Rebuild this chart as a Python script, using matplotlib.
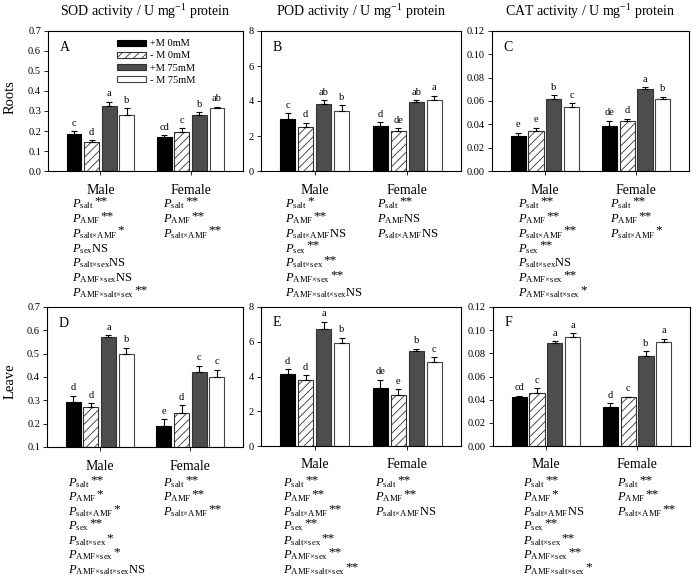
import numpy as np
import matplotlib
matplotlib.use("Agg")
import matplotlib.pyplot as plt
from matplotlib.patches import Patch

plt.rcParams['font.family'] = 'Liberation Serif'
plt.rcParams['mathtext.fontset'] = 'custom'
plt.rcParams['mathtext.rm'] = 'Liberation Serif'
plt.rcParams['mathtext.it'] = 'Liberation Serif:italic'
plt.rcParams['hatch.linewidth'] = 0.6

sexes = ["Male", "Female"]
treatments = ["+M 0mM", "- M 0mM", "+M 75mM", "- M 75mM"]

# values per panel: male (4 treatments) then female (4 treatments)
sod_root = [0.185, 0.147, 0.325, 0.278, 0.170, 0.197, 0.278, 0.313]
sod_root_err = [0.015, 0.008, 0.022, 0.035, 0.010, 0.018, 0.015, 0.008]
sod_root_let = ["c", "d", "a", "b", "cd", "c", "b", "ab"]

pod_root = [2.95, 2.50, 3.85, 3.45, 2.55, 2.30, 3.92, 4.08]
pod_root_err = [0.35, 0.25, 0.20, 0.30, 0.25, 0.15, 0.12, 0.22]
pod_root_let = ["c", "d", "ab", "b", "d", "de", "ab", "a"]

cat_root = [0.030, 0.034, 0.062, 0.055, 0.039, 0.043, 0.070, 0.062]
cat_root_err = [0.003, 0.003, 0.003, 0.003, 0.004, 0.002, 0.002, 0.0015]
cat_root_let = ["e", "e", "b", "c", "de", "d", "a", "b"]

sod_leaf = [0.295, 0.273, 0.570, 0.500, 0.190, 0.245, 0.423, 0.400]
sod_leaf_err = [0.025, 0.015, 0.010, 0.025, 0.030, 0.035, 0.025, 0.030]
sod_leaf_let = ["d", "d", "a", "b", "e", "d", "c", "c"]

pod_leaf = [4.12, 3.78, 6.75, 5.95, 3.35, 2.95, 5.45, 4.85]
pod_leaf_err = [0.30, 0.28, 0.40, 0.28, 0.45, 0.32, 0.15, 0.25]
pod_leaf_let = ["d", "d", "a", "b", "de", "e", "b", "c"]

cat_leaf = [0.042, 0.046, 0.089, 0.0945, 0.034, 0.042, 0.078, 0.0895]
cat_leaf_err = [0.0015, 0.004, 0.0015, 0.003, 0.003, 0.0007, 0.004, 0.003]
cat_leaf_let = ["cd", "c", "a", "a", "d", "c", "b", "a"]

# ANOVA results printed under each panel
male_terms = ["salt", "AMF", "salt×AMF", "sex", "salt×sex", "AMF×sex", "AMF×salt×sex"]
female_terms = ["salt", "AMF", "salt×AMF"]
sig_a = (["**", "**", "*", "NS", "NS", "NS", "**"], ["**", "**", "**"])
sig_b = (["*", "**", "NS", "**", "**", "**", "NS"], ["**", "NS", "NS"])
sig_c = (["**", "**", "**", "**", "NS", "**", "*"], ["**", "**", "*"])
sig_d = (["**", "*", "*", "**", "*", "*", "NS"], ["**", "**", "**"])
sig_e = (["**", "**", "**", "**", "**", "**", "**"], ["**", "**", "NS"])
sig_f = (["**", "*", "NS", "**", "**", "**", "*"], ["**", "**", "**"])

titles = ["SOD activity / U mg$^{-1}$ protein",
          "POD activity / U mg$^{-1}$ protein",
          "CAT activity / U mg$^{-1}$ protein"]

W, H = 700, 582
fig = plt.figure(figsize=(W / 100, H / 100), dpi=100)
renderer = fig.canvas.get_renderer()


def rect(l, t, r, b):
    return [l / W, 1 - b / H, (r - l) / W, (b - t) / H]


bar_colors = ["black", "white", "#4d4d4d", "white"]
bar_hatch = [None, "////", None, None]
bar_edge = ["black", "#333333", "#333333", "#444444"]


def panel(box, means, errs, lets, ylim, yticks, fmt, tag):
    ax = fig.add_axes(rect(*box))
    means = np.asarray(means)
    errs = np.asarray(errs)
    step, wid = 0.195, 0.165
    rng = ylim[1] - ylim[0]
    for i in range(4):
        xs = np.array([1, 2]) + (i - 1.5) * step
        m = means[[i, i + 4]]
        e = errs[[i, i + 4]]
        ax.bar(xs, m - ylim[0], wid, bottom=ylim[0], color=bar_colors[i],
               hatch=bar_hatch[i], edgecolor=bar_edge[i], linewidth=0.8, zorder=2)
        ax.errorbar(xs, m, yerr=[np.zeros(2), e], fmt="none", ecolor="black",
                    elinewidth=0.8, capsize=2.5, capthick=0.8, zorder=3)
        for x, v, ee, t in zip(xs, m, e, [lets[i], lets[i + 4]]):
            ax.text(x, v + ee + 0.025 * rng, t, ha="center", va="bottom", fontsize=7.5)
    ax.set_xlim(0.42, 2.58)
    ax.set_ylim(*ylim)
    ax.set_yticks(yticks)
    ax.set_yticklabels([fmt % v for v in yticks], fontsize=7.5)
    ax.set_xticks([1, 2])
    ax.set_xticklabels(sexes, fontsize=10)
    ax.tick_params(axis="x", length=3, pad=6, width=0.6)
    ax.tick_params(axis="y", length=3, pad=2, width=0.6)
    for s in ax.spines.values():
        s.set_linewidth(0.8)
    ax.text(0.06, 0.86, tag, transform=ax.transAxes, fontsize=10)
    return ax


def p_block(x, y, terms, sigs, dy):
    # y is the baseline of the first line, in pixels from the top
    for k, (term, sig) in enumerate(zip(terms, sigs)):
        yy = 1 - (y + k * dy) / H
        sub = term.replace("×", r"{\times}")
        txt = r"$P_{\mathrm{%s}}$" % sub
        if sig == "NS":
            txt += "NS"
        t = fig.text(x / W, yy, txt, fontsize=9, ha="left", va="baseline")
        if sig != "NS":
            bb = t.get_window_extent(renderer=renderer)
            fig.text(bb.x1 / W, yy + 3 / H, sig, fontsize=9.5,
                     ha="left", va="baseline")


ax_a = panel((48, 31, 243, 171), sod_root, sod_root_err, sod_root_let,
             (0, 0.7), np.arange(0, 0.71, 0.1), "%.1f", "A")
panel((261, 31, 461, 171), pod_root, pod_root_err, pod_root_let,
      (0, 8), [0, 2, 4, 6, 8], "%d", "B")
panel((492, 31, 689, 171), cat_root, cat_root_err, cat_root_let,
      (0, 0.12), np.arange(0, 0.121, 0.02), "%.2f", "C")
panel((47, 307, 243, 447), sod_leaf, sod_leaf_err, sod_leaf_let,
      (0.1, 0.7), np.arange(0.1, 0.71, 0.1), "%.1f", "D")
panel((261, 307, 461, 446), pod_leaf, pod_leaf_err, pod_leaf_let,
      (0, 8), [0, 2, 4, 6, 8], "%d", "E")
panel((493, 307, 690, 446), cat_leaf, cat_leaf_err, cat_leaf_let,
      (0, 0.12), np.arange(0, 0.121, 0.02), "%.2f", "F")

handles = [Patch(facecolor=bar_colors[i], hatch=bar_hatch[i], edgecolor=bar_edge[i],
                 linewidth=0.8) for i in range(4)]
ax_a.legend(handles, treatments, loc="upper left", bbox_to_anchor=(0.31, 1.0),
            frameon=False, fontsize=7.5, handlelength=2.8, handleheight=0.55,
            labelspacing=0.3, borderpad=0.3, handletextpad=0.4)

for x, t in zip([145, 361, 590], titles):
    fig.text(x / W, 1 - 12 / H, t, fontsize=10, ha="center", va="center")

fig.text(10 / W, 1 - 97 / H, "Roots", rotation=90, fontsize=10.5, ha="center", va="center")
fig.text(10 / W, 1 - 381 / H, "Leave", rotation=90, fontsize=10.5, ha="center", va="center")

p_block(72, 207, male_terms, sig_a[0], 14.9)
p_block(163, 207, female_terms, sig_a[1], 14.9)
p_block(285, 207, male_terms, sig_b[0], 14.9)
p_block(377, 207, female_terms, sig_b[1], 14.9)
p_block(518, 207, male_terms, sig_c[0], 14.9)
p_block(610, 207, female_terms, sig_c[1], 14.9)
p_block(68, 486, male_terms, sig_d[0], 14.5)
p_block(163, 486, female_terms, sig_d[1], 14.5)
p_block(283, 486, male_terms, sig_e[0], 14.5)
p_block(375, 486, female_terms, sig_e[1], 14.5)
p_block(523, 486, male_terms, sig_f[0], 14.5)
p_block(617, 486, female_terms, sig_f[1], 14.5)

fig.savefig("out.png", dpi=100)
